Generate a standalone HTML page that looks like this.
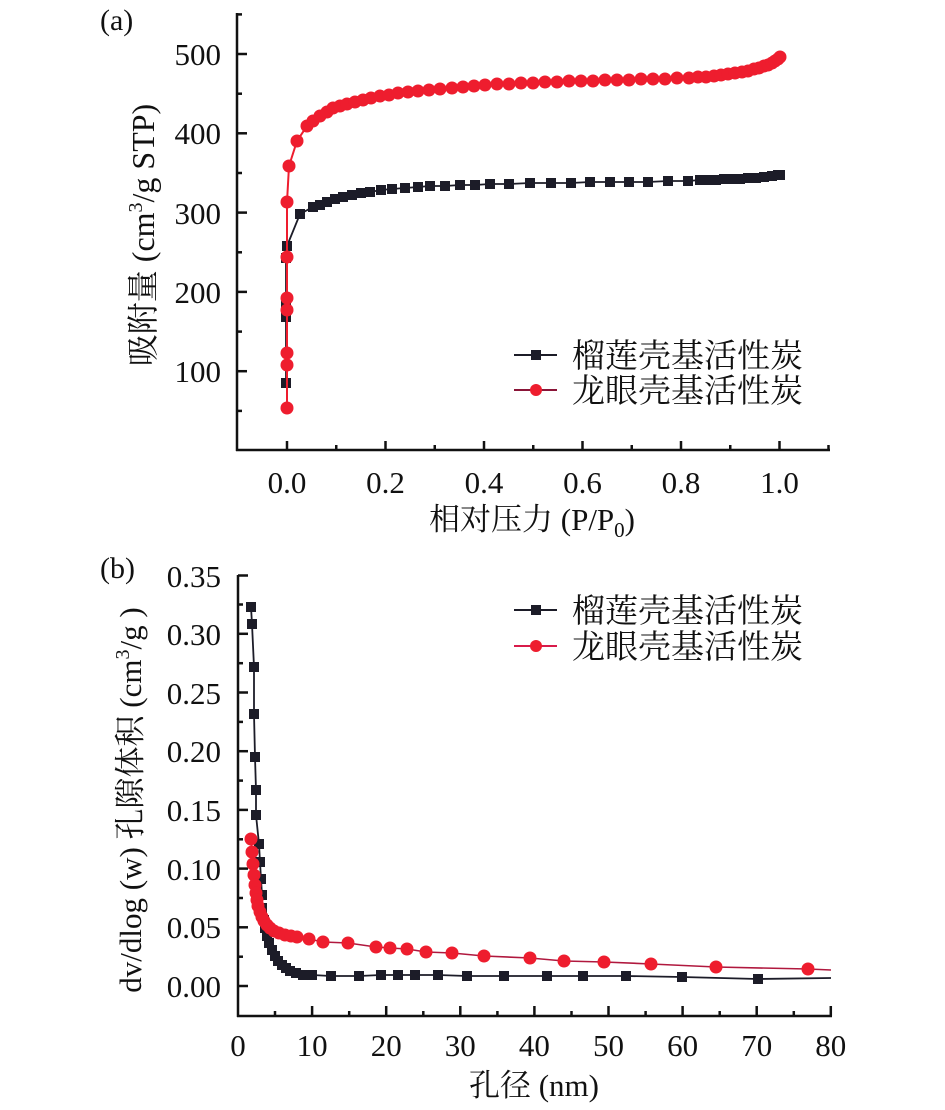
<!DOCTYPE html>
<html><head><meta charset="utf-8"><style>
html,body{margin:0;padding:0;background:#fff;}
svg{display:block;}
.t{font-family:"Liberation Serif","Noto Serif CJK SC",serif;fill:#111;}
.c{font-family:"Liberation Serif","Noto Serif CJK SC",serif;fill:#111;}
</style></head><body>
<svg width="945" height="1110" viewBox="0 0 945 1110" xmlns="http://www.w3.org/2000/svg">
<rect width="945" height="1110" fill="#fff"/>

<!-- ========== PANEL (a) ========== -->
<text class="t" x="100" y="30" font-size="30">(a)</text>
<g stroke="#111" stroke-width="2.5" fill="none">
  <line x1="237" y1="13" x2="237" y2="451"/>
  <line x1="236" y1="450" x2="830" y2="450"/>
  <!-- y major -->
  <line x1="237" y1="54" x2="247" y2="54"/>
  <line x1="237" y1="133.3" x2="247" y2="133.3"/>
  <line x1="237" y1="212.6" x2="247" y2="212.6"/>
  <line x1="237" y1="291.9" x2="247" y2="291.9"/>
  <line x1="237" y1="371.2" x2="247" y2="371.2"/>
  <!-- y minor -->
  <line x1="237" y1="14.4" x2="242" y2="14.4"/>
  <line x1="237" y1="93.7" x2="242" y2="93.7"/>
  <line x1="237" y1="173" x2="242" y2="173"/>
  <line x1="237" y1="252.3" x2="242" y2="252.3"/>
  <line x1="237" y1="331.6" x2="242" y2="331.6"/>
  <line x1="237" y1="410.9" x2="242" y2="410.9"/>
  <!-- x major -->
  <line x1="287" y1="450" x2="287" y2="441"/>
  <line x1="385.5" y1="450" x2="385.5" y2="441"/>
  <line x1="484" y1="450" x2="484" y2="441"/>
  <line x1="582.5" y1="450" x2="582.5" y2="441"/>
  <line x1="681" y1="450" x2="681" y2="441"/>
  <line x1="779.5" y1="450" x2="779.5" y2="441"/>
  <!-- x minor -->
  <line x1="336.25" y1="450" x2="336.25" y2="445"/>
  <line x1="434.75" y1="450" x2="434.75" y2="445"/>
  <line x1="533.25" y1="450" x2="533.25" y2="445"/>
  <line x1="631.75" y1="450" x2="631.75" y2="445"/>
  <line x1="730.25" y1="450" x2="730.25" y2="445"/>
  <line x1="828.5" y1="450" x2="828.5" y2="445"/>
</g>
<g class="t" font-size="31" text-anchor="end">
  <text x="221" y="65">500</text>
  <text x="221" y="144">400</text>
  <text x="221" y="224">300</text>
  <text x="221" y="303">200</text>
  <text x="221" y="382">100</text>
</g>
<g class="t" font-size="31" text-anchor="middle">
  <text x="287" y="493">0.0</text>
  <text x="385.5" y="493">0.2</text>
  <text x="484" y="493">0.4</text>
  <text x="582.5" y="493">0.6</text>
  <text x="681" y="493">0.8</text>
  <text x="779.5" y="493">1.0</text>
</g>
<text class="c" x="532" y="530" font-size="31" text-anchor="middle">相对压力 (P/P<tspan font-size="21" dy="7">0</tspan><tspan dy="-7">)</tspan></text>
<text class="c" transform="translate(154,235) rotate(-90)" font-size="32" text-anchor="middle">吸附量 (cm<tspan font-size="20" dy="-12">3</tspan><tspan dy="12">/g STP)</tspan></text>

<!-- black series (a) -->
<polyline fill="none" stroke="#1c1c28" stroke-width="1.8" points="286,383 286,317 286,303 286,258 287,246 300,214 313,207 320,205 327,202 335,199 343,197 352,195 361,193 370,192 381,190 392,189 405,188 418,187 430,186 445,186 460,185 475,185 490,184 509,184 530,183 551,183 571,183 590,182 610,182 629,182 648,182 668,181 688,181 700,180 708,180 716,180 724,179 732,179 740,179 748,178 756,178 764,177 772,176 778,175 780,175"/>
<g fill="#1c1c28">
<rect x="281" y="378" width="10" height="10"/><rect x="281" y="312" width="10" height="10"/><rect x="281" y="298" width="10" height="10"/><rect x="281" y="253" width="10" height="10"/><rect x="282" y="241" width="10" height="10"/><rect x="295" y="209" width="10" height="10"/>
<rect x="308" y="202" width="10" height="10"/><rect x="315" y="200" width="10" height="10"/><rect x="322" y="197" width="10" height="10"/><rect x="330" y="194" width="10" height="10"/><rect x="338" y="192" width="10" height="10"/><rect x="347" y="190" width="10" height="10"/><rect x="356" y="188" width="10" height="10"/><rect x="365" y="187" width="10" height="10"/><rect x="376" y="185" width="10" height="10"/><rect x="387" y="184" width="10" height="10"/><rect x="400" y="183" width="10" height="10"/><rect x="413" y="182" width="10" height="10"/><rect x="425" y="181" width="10" height="10"/><rect x="440" y="181" width="10" height="10"/><rect x="455" y="180" width="10" height="10"/><rect x="470" y="180" width="10" height="10"/><rect x="485" y="179" width="10" height="10"/><rect x="504" y="179" width="10" height="10"/><rect x="525" y="178" width="10" height="10"/><rect x="546" y="178" width="10" height="10"/><rect x="566" y="178" width="10" height="10"/><rect x="585" y="177" width="10" height="10"/><rect x="605" y="177" width="10" height="10"/><rect x="624" y="177" width="10" height="10"/><rect x="643" y="177" width="10" height="10"/><rect x="663" y="176" width="10" height="10"/><rect x="683" y="176" width="10" height="10"/><rect x="695" y="175" width="10" height="10"/><rect x="703" y="175" width="10" height="10"/><rect x="711" y="175" width="10" height="10"/><rect x="719" y="174" width="10" height="10"/><rect x="727" y="174" width="10" height="10"/><rect x="735" y="174" width="10" height="10"/><rect x="743" y="173" width="10" height="10"/><rect x="751" y="173" width="10" height="10"/><rect x="759" y="172" width="10" height="10"/><rect x="767" y="171" width="10" height="10"/><rect x="773" y="170" width="10" height="10"/><rect x="775" y="170" width="10" height="10"/>
</g>

<!-- red series (a) -->
<polyline fill="none" stroke="#ee1d2e" stroke-width="2" points="287,408 287,365 287,353 287,310 287,298 287,257 287,202 289,166 297,141 307,126 313,121 320,116 327,112 333,108 340,106 347,104 355,102 363,100 371,98 380,96 389,95 398,93 408,92 418,91 429,90 440,89 452,88 463,87 474,86 485,85 497,84 509,84 521,83 533,83 545,82 557,82 569,81 581,81 593,81 605,80 617,80 629,80 641,79 653,79 665,79 677,78 689,78 698,77 706,77 714,76 721,75 728,74 735,73 742,72 748,71 754,69 759,68 764,66 768,65 772,63 775,61 778,59 780,57"/>
<g fill="#ee1d2e">
<circle cx="287" cy="408" r="6.5"/><circle cx="287" cy="365" r="6.5"/><circle cx="287" cy="353" r="6.5"/><circle cx="287" cy="310" r="6.5"/><circle cx="287" cy="298" r="6.5"/><circle cx="287" cy="257" r="6.5"/><circle cx="287" cy="202" r="6.5"/><circle cx="289" cy="166" r="6.5"/><circle cx="297" cy="141" r="6.5"/><circle cx="307" cy="126" r="6.5"/><circle cx="313" cy="121" r="6.5"/><circle cx="320" cy="116" r="6.5"/><circle cx="327" cy="112" r="6.5"/><circle cx="333" cy="108" r="6.5"/><circle cx="340" cy="106" r="6.5"/><circle cx="347" cy="104" r="6.5"/><circle cx="355" cy="102" r="6.5"/><circle cx="363" cy="100" r="6.5"/><circle cx="371" cy="98" r="6.5"/><circle cx="380" cy="96" r="6.5"/><circle cx="389" cy="95" r="6.5"/><circle cx="398" cy="93" r="6.5"/><circle cx="408" cy="92" r="6.5"/><circle cx="418" cy="91" r="6.5"/><circle cx="429" cy="90" r="6.5"/><circle cx="440" cy="89" r="6.5"/><circle cx="452" cy="88" r="6.5"/><circle cx="463" cy="87" r="6.5"/><circle cx="474" cy="86" r="6.5"/><circle cx="485" cy="85" r="6.5"/><circle cx="497" cy="84" r="6.5"/><circle cx="509" cy="84" r="6.5"/><circle cx="521" cy="83" r="6.5"/><circle cx="533" cy="83" r="6.5"/><circle cx="545" cy="82" r="6.5"/><circle cx="557" cy="82" r="6.5"/><circle cx="569" cy="81" r="6.5"/><circle cx="581" cy="81" r="6.5"/><circle cx="593" cy="81" r="6.5"/><circle cx="605" cy="80" r="6.5"/><circle cx="617" cy="80" r="6.5"/><circle cx="629" cy="80" r="6.5"/><circle cx="641" cy="79" r="6.5"/><circle cx="653" cy="79" r="6.5"/><circle cx="665" cy="79" r="6.5"/><circle cx="677" cy="78" r="6.5"/><circle cx="689" cy="78" r="6.5"/><circle cx="698" cy="77" r="6.5"/><circle cx="706" cy="77" r="6.5"/><circle cx="714" cy="76" r="6.5"/><circle cx="721" cy="75" r="6.5"/><circle cx="728" cy="74" r="6.5"/><circle cx="735" cy="73" r="6.5"/><circle cx="742" cy="72" r="6.5"/><circle cx="748" cy="71" r="6.5"/><circle cx="754" cy="69" r="6.5"/><circle cx="759" cy="68" r="6.5"/><circle cx="764" cy="66" r="6.5"/><circle cx="768" cy="65" r="6.5"/><circle cx="772" cy="63" r="6.5"/><circle cx="775" cy="61" r="6.5"/><circle cx="778" cy="59" r="6.5"/><circle cx="780" cy="57" r="6.5"/>
</g>

<!-- legend (a) -->
<line x1="514" y1="355" x2="557" y2="355" stroke="#1c1c28" stroke-width="2"/>
<rect x="531" y="350" width="10" height="10" fill="#1c1c28"/>
<line x1="514" y1="390" x2="557" y2="390" stroke="#8a1538" stroke-width="2"/>
<circle cx="536" cy="390" r="6" fill="#ee1d2e"/>
<text class="c" x="572" y="367" font-size="33">榴莲壳基活性炭</text>
<text class="c" x="572" y="402" font-size="33">龙眼壳基活性炭</text>

<!-- ========== PANEL (b) ========== -->
<text class="t" x="100" y="578" font-size="30">(b)</text>
<g stroke="#111" stroke-width="2.5" fill="none">
  <line x1="238" y1="575" x2="238" y2="1017"/>
  <line x1="237" y1="1016" x2="832" y2="1016"/>
  <!-- y major -->
  <line x1="238" y1="575.5" x2="248" y2="575.5"/>
  <line x1="238" y1="633.8" x2="248" y2="633.8"/>
  <line x1="238" y1="692.5" x2="248" y2="692.5"/>
  <line x1="238" y1="751.2" x2="248" y2="751.2"/>
  <line x1="238" y1="809.9" x2="248" y2="809.9"/>
  <line x1="238" y1="868.6" x2="248" y2="868.6"/>
  <line x1="238" y1="927.3" x2="248" y2="927.3"/>
  <line x1="238" y1="986" x2="248" y2="986"/>
  <!-- y minor -->
  <line x1="238" y1="604.5" x2="243" y2="604.5"/>
  <line x1="238" y1="663.2" x2="243" y2="663.2"/>
  <line x1="238" y1="721.9" x2="243" y2="721.9"/>
  <line x1="238" y1="780.6" x2="243" y2="780.6"/>
  <line x1="238" y1="839.3" x2="243" y2="839.3"/>
  <line x1="238" y1="898" x2="243" y2="898"/>
  <line x1="238" y1="956.7" x2="243" y2="956.7"/>
  <!-- x major -->
  <line x1="312.1" y1="1016" x2="312.1" y2="1006"/>
  <line x1="386.2" y1="1016" x2="386.2" y2="1006"/>
  <line x1="460.3" y1="1016" x2="460.3" y2="1006"/>
  <line x1="534.4" y1="1016" x2="534.4" y2="1006"/>
  <line x1="608.5" y1="1016" x2="608.5" y2="1006"/>
  <line x1="682.6" y1="1016" x2="682.6" y2="1006"/>
  <line x1="756.7" y1="1016" x2="756.7" y2="1006"/>
  <line x1="830.8" y1="1016" x2="830.8" y2="1006"/>
  <!-- x minor -->
  <line x1="275" y1="1016" x2="275" y2="1011"/>
  <line x1="349.2" y1="1016" x2="349.2" y2="1011"/>
  <line x1="423.3" y1="1016" x2="423.3" y2="1011"/>
  <line x1="497.4" y1="1016" x2="497.4" y2="1011"/>
  <line x1="571.5" y1="1016" x2="571.5" y2="1011"/>
  <line x1="645.6" y1="1016" x2="645.6" y2="1011"/>
  <line x1="719.7" y1="1016" x2="719.7" y2="1011"/>
  <line x1="793.8" y1="1016" x2="793.8" y2="1011"/>
</g>
<g class="t" font-size="31" text-anchor="end">
  <text x="221" y="587">0.35</text>
  <text x="221" y="645">0.30</text>
  <text x="221" y="704">0.25</text>
  <text x="221" y="762">0.20</text>
  <text x="221" y="821">0.15</text>
  <text x="221" y="880">0.10</text>
  <text x="221" y="938">0.05</text>
  <text x="221" y="997">0.00</text>
</g>
<g class="t" font-size="31" text-anchor="middle">
  <text x="238" y="1056">0</text>
  <text x="312.1" y="1056">10</text>
  <text x="386.2" y="1056">20</text>
  <text x="460.3" y="1056">30</text>
  <text x="534.4" y="1056">40</text>
  <text x="608.5" y="1056">50</text>
  <text x="682.6" y="1056">60</text>
  <text x="756.7" y="1056">70</text>
  <text x="830.8" y="1056">80</text>
</g>
<text class="c" x="534" y="1096" font-size="31" text-anchor="middle">孔径 (nm)</text>
<text class="c" transform="translate(141,800) rotate(-90)" font-size="31" text-anchor="middle">dv/dlog (w) 孔隙体积 (cm<tspan font-size="20" dy="-12">3</tspan><tspan dy="12">/g )</tspan></text>

<!-- black series (b) -->
<polyline fill="none" stroke="#1c1c28" stroke-width="1.8" points="251,607 252,624 254,667 254,714 255,757 256,790 256,815 259,844 260,862 261,879 262,895 262,908 264,920 265,928 267,936 269,943 272,950 275,956 278,961 282,965 286,968 290,971 296,973 303,975 312,975 331,976 359,976 381,975 398,975 415,975 438,975 467,976 504,976 547,976 583,976 626,976 682,977 758,979 831,978"/>
<g fill="#1c1c28">
<rect x="246" y="602" width="10" height="10"/><rect x="247" y="619" width="10" height="10"/><rect x="249" y="662" width="10" height="10"/><rect x="249" y="709" width="10" height="10"/><rect x="250" y="752" width="10" height="10"/><rect x="251" y="785" width="10" height="10"/><rect x="251" y="810" width="10" height="10"/><rect x="254" y="839" width="10" height="10"/><rect x="255" y="857" width="10" height="10"/><rect x="256" y="874" width="10" height="10"/><rect x="257" y="890" width="10" height="10"/><rect x="257" y="903" width="10" height="10"/><rect x="259" y="915" width="10" height="10"/><rect x="260" y="923" width="10" height="10"/><rect x="262" y="931" width="10" height="10"/><rect x="264" y="938" width="10" height="10"/><rect x="267" y="945" width="10" height="10"/><rect x="270" y="951" width="10" height="10"/><rect x="273" y="956" width="10" height="10"/><rect x="277" y="960" width="10" height="10"/><rect x="281" y="963" width="10" height="10"/><rect x="285" y="966" width="10" height="10"/><rect x="291" y="968" width="10" height="10"/><rect x="298" y="970" width="10" height="10"/><rect x="307" y="970" width="10" height="10"/><rect x="326" y="971" width="10" height="10"/><rect x="354" y="971" width="10" height="10"/><rect x="376" y="970" width="10" height="10"/><rect x="393" y="970" width="10" height="10"/><rect x="410" y="970" width="10" height="10"/><rect x="433" y="970" width="10" height="10"/><rect x="462" y="971" width="10" height="10"/><rect x="499" y="971" width="10" height="10"/><rect x="542" y="971" width="10" height="10"/><rect x="578" y="971" width="10" height="10"/><rect x="621" y="971" width="10" height="10"/><rect x="677" y="972" width="10" height="10"/><rect x="753" y="974" width="10" height="10"/>
</g>

<!-- red series (b) -->
<polyline fill="none" stroke="#b0183e" stroke-width="1.6" points="251,839 252,852 253,864 254,875 255,885 256,893 257,900 258,906 260,912 262,917 264,921 267,925 270,928 274,931 279,933 285,935 291,936 297,937 309,939 323,942 348,943 376,947 390,948 407,949 426,952 452,953 484,956 530,958 564,961 604,962 651,964 716,967 808,969 831,970"/>
<g fill="#ee1d2e">
<circle cx="251" cy="839" r="6.5"/><circle cx="252" cy="852" r="6.5"/><circle cx="253" cy="864" r="6.5"/><circle cx="254" cy="875" r="6.5"/><circle cx="255" cy="885" r="6.5"/><circle cx="256" cy="893" r="6.5"/><circle cx="257" cy="900" r="6.5"/><circle cx="258" cy="906" r="6.5"/><circle cx="260" cy="912" r="6.5"/><circle cx="262" cy="917" r="6.5"/><circle cx="264" cy="921" r="6.5"/><circle cx="267" cy="925" r="6.5"/><circle cx="270" cy="928" r="6.5"/><circle cx="274" cy="931" r="6.5"/><circle cx="279" cy="933" r="6.5"/><circle cx="285" cy="935" r="6.5"/><circle cx="291" cy="936" r="6.5"/><circle cx="297" cy="937" r="6.5"/><circle cx="309" cy="939" r="6.5"/><circle cx="323" cy="942" r="6.5"/><circle cx="348" cy="943" r="6.5"/><circle cx="376" cy="947" r="6.5"/><circle cx="390" cy="948" r="6.5"/><circle cx="407" cy="949" r="6.5"/><circle cx="426" cy="952" r="6.5"/><circle cx="452" cy="953" r="6.5"/><circle cx="484" cy="956" r="6.5"/><circle cx="530" cy="958" r="6.5"/><circle cx="564" cy="961" r="6.5"/><circle cx="604" cy="962" r="6.5"/><circle cx="651" cy="964" r="6.5"/><circle cx="716" cy="967" r="6.5"/><circle cx="808" cy="969" r="6.5"/>
</g>

<!-- legend (b) -->
<line x1="514" y1="610" x2="557" y2="610" stroke="#1c1c28" stroke-width="2"/>
<rect x="531" y="605" width="10" height="10" fill="#1c1c28"/>
<line x1="514" y1="646" x2="557" y2="646" stroke="#d81b4a" stroke-width="2"/>
<circle cx="536" cy="646" r="6" fill="#ee1d2e"/>
<text class="c" x="572" y="622" font-size="33">榴莲壳基活性炭</text>
<text class="c" x="572" y="658" font-size="33">龙眼壳基活性炭</text>
</svg>
</body></html>
